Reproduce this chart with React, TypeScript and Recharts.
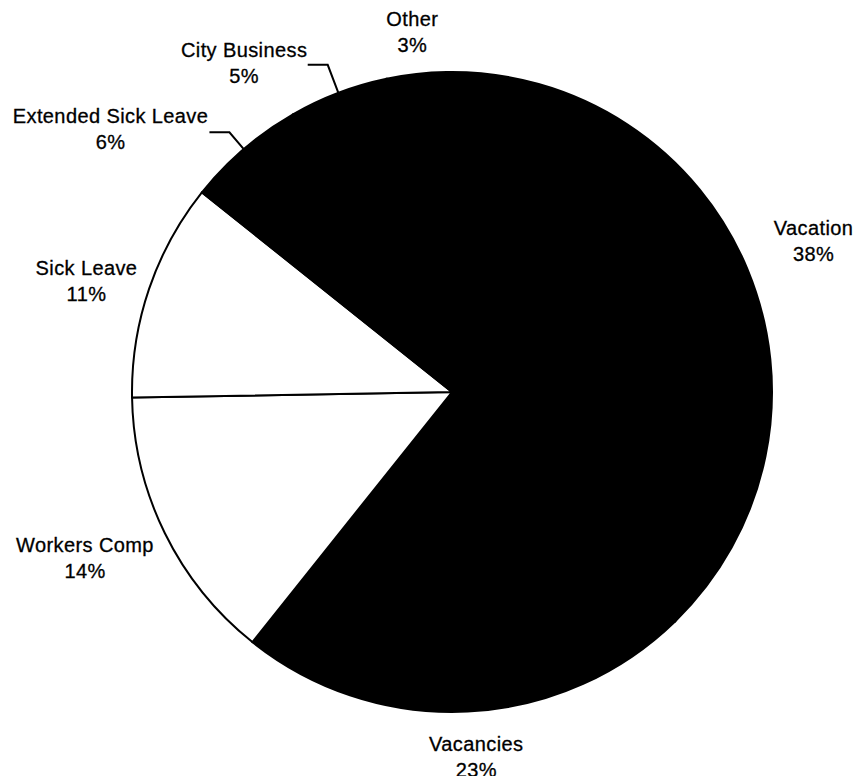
import { PieChart, Pie, Cell } from "recharts";

const categories = [
  "Vacation",
  "Vacancies",
  "Workers Comp",
  "Sick Leave",
  "Extended Sick Leave",
  "City Business",
  "Other",
];
const shares = [38, 23, 14, 11, 6, 5, 3];
const fills = ["#000", "#000", "#fff", "#fff", "#000", "#000", "#000"];

// label placement around the pie centre: [angle in degrees, distance in px]
const labelSpots: [number, number][] = [
  [22.7, 392],
  [-86.2, 366],
  [-155.6, 403],
  [163.1, 382],
  [142.4, 431],
  [122.3, 389],
  [96.3, 362],
];
// leader line length (0 = no leader)
const leaders = [0, 0, 0, 0, 22, 30, 0];

const data = categories.map((name, i) => ({ name, value: shares[i] }));

const RAD = Math.PI / 180;
const FONT = "'Liberation Sans', Arial, Helvetica, sans-serif";

function renderLabel(props: any) {
  const { cx, cy, midAngle, outerRadius, index, name, value } = props;
  const [ang, dist] = labelSpots[index];
  const x = cx + dist * Math.cos(ang * RAD);
  const y = cy - dist * Math.sin(ang * RAD);
  const len = leaders[index];
  let leader = null;
  if (len > 0) {
    const ex = cx + outerRadius * Math.cos(midAngle * RAD);
    const ey = cy - outerRadius * Math.sin(midAngle * RAD);
    const bx = cx + (outerRadius + len) * Math.cos(midAngle * RAD);
    const by = cy - (outerRadius + len) * Math.sin(midAngle * RAD);
    leader = (
      <polyline
        points={`${ex},${ey} ${bx},${by} ${bx - 20},${by}`}
        fill="none"
        stroke="#000"
        strokeWidth={2}
      />
    );
  }
  const textProps = {
    x,
    textAnchor: "middle" as const,
    dominantBaseline: "central" as const,
    fontFamily: FONT,
    fontSize: 20,
    letterSpacing: 0.4,
    fill: "#000",
    stroke: "#000",
    strokeWidth: 0.3,
  };
  return (
    <g key={`lbl-${index}`}>
      {leader}
      <text {...textProps} y={y - 13}>
        {name}
      </text>
      <text {...textProps} y={y + 13}>
        {`${value}%`}
      </text>
    </g>
  );
}

export default function App() {
  return (
    <div style={{ position: "absolute", left: 0, top: 0, background: "#fff" }}>
      <PieChart
        width={859}
        height={776}
        margin={{ top: 0, right: 0, bottom: 0, left: 0 }}
      >
        <Pie
          data={data}
          dataKey="value"
          nameKey="name"
          cx={452}
          cy={392}
          outerRadius={320}
          startAngle={91}
          endAngle={-269}
          stroke="#000"
          strokeWidth={2}
          label={renderLabel}
          labelLine={false}
          isAnimationActive={false}
        >
          {data.map((d, i) => (
            <Cell key={d.name} fill={fills[i]} />
          ))}
        </Pie>
      </PieChart>
    </div>
  );
}
